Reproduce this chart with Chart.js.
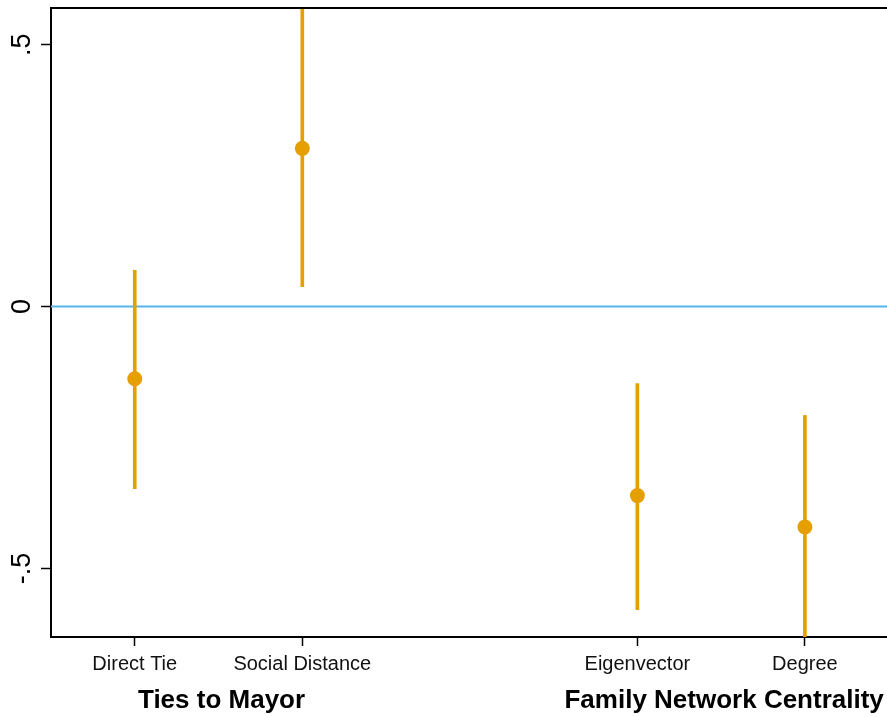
<!DOCTYPE html>
<html>
<head>
<meta charset="utf-8">
<script src="https://cdn.jsdelivr.net/npm/chart.js@4"></script>
<style>
  html, body { margin: 0; padding: 0; background: #fff; overflow: hidden; }
  #wrap { width: 887px; height: 717px; }
</style>
</head>
<body>
<div id="wrap"><canvas id="chart"></canvas></div>
<script>
const categories = ["Direct Tie", "Social Distance", "Eigenvector", "Degree"]
const positions = [1, 2, 4, 5]
const estimates = [-0.138, 0.302, -0.361, -0.421]
const ciLow = [-0.348, 0.038, -0.579, -0.66]
const ciHigh = [0.069, 0.62, -0.147, -0.208]
const yTicks = [-0.5, 0, 0.5]
const yTickLabels = ["-.5", "0", ".5"]
const groups = [
    { label: "Ties to Mayor", from: 1, to: 2 },
    { label: "Family Network Centrality", from: 4, to: 5 }
]

const orange = "#E69F00"
const skyBlue = "#56B4E9"
const fontFamily = "'Liberation Sans', Arial, Helvetica, sans-serif"

const framePlugin = {
    id: "frame",
    afterDraw(chart) {
        const ctx = chart.ctx
        const area = chart.chartArea
        const xScale = chart.scales.x
        const yScale = chart.scales.y

        ctx.save()
        // top border of the plot region
        ctx.strokeStyle = "#000"
        ctx.lineWidth = 2
        ctx.beginPath()
        ctx.moveTo(area.left, area.top)
        ctx.lineTo(area.right, area.top)
        ctx.stroke()

        // rotated y tick labels
        ctx.fillStyle = "#000"
        ctx.font = "27px " + fontFamily
        ctx.textAlign = "center"
        ctx.textBaseline = "middle"
        yTicks.forEach((v, i) => {
            ctx.save()
            ctx.translate(23, yScale.getPixelForValue(v))
            ctx.rotate(-Math.PI / 2)
            ctx.fillText(yTickLabels[i], 0, 0)
            ctx.restore()
        })

        // group titles under the category labels
        ctx.font = "bold 26px " + fontFamily
        groups.forEach(g => {
            const cx = xScale.getPixelForValue((g.from + g.to) / 2) + 3
            ctx.fillText(g.label, cx, 701)
        })
        ctx.restore()
    }
}

new Chart(document.getElementById("chart"), {
    type: "scatter",
    data: {
        datasets: [
            {
                type: "line",
                data: [{ x: 0.5, y: 0 }, { x: 5.6, y: 0 }],
                borderColor: skyBlue,
                borderWidth: 2,
                pointRadius: 0,
                clip: 0,
                order: 3
            },
            {
                type: "bar",
                data: positions.map((x, i) => ({ x: x, y: [ciLow[i], ciHigh[i]] })),
                backgroundColor: orange,
                barThickness: 3,
                grouped: false,
                clip: 0,
                order: 2
            },
            {
                type: "scatter",
                data: positions.map((x, i) => ({ x: x, y: estimates[i] })),
                backgroundColor: orange,
                borderWidth: 0,
                pointRadius: 7.5,
                order: 1
            }
        ]
    },
    options: {
        responsive: true,
        maintainAspectRatio: false,
        animation: false,
        layout: {
            autoPadding: false,
            padding: { top: 8, left: 41, right: 0, bottom: 35 }
        },
        scales: {
            x: {
                type: "linear",
                min: 0.5,
                max: 5.49,
                offset: false,
                afterBuildTicks: scale => {
                    scale.ticks = positions.map(v => ({ value: v }))
                },
                ticks: {
                    autoSkip: false,
                    maxRotation: 0,
                    padding: 6,
                    color: "#111",
                    font: { family: fontFamily, size: 20 },
                    callback: (value) => categories[positions.indexOf(value)]
                },
                grid: {
                    drawOnChartArea: false,
                    tickLength: 9,
                    tickWidth: 1.5,
                    tickColor: "#000",
                    offset: false
                },
                border: { color: "#000", width: 2 }
            },
            y: {
                min: -0.631,
                max: 0.57,
                afterBuildTicks: scale => {
                    scale.ticks = yTicks.map(v => ({ value: v }))
                },
                ticks: { display: false },
                grid: {
                    drawOnChartArea: false,
                    tickLength: 10,
                    tickWidth: 1.5,
                    tickColor: "#000"
                },
                border: { color: "#000", width: 2 }
            }
        },
        plugins: {
            legend: { display: false },
            tooltip: { enabled: false }
        }
    },
    plugins: [framePlugin]
})
</script>
</body>
</html>
